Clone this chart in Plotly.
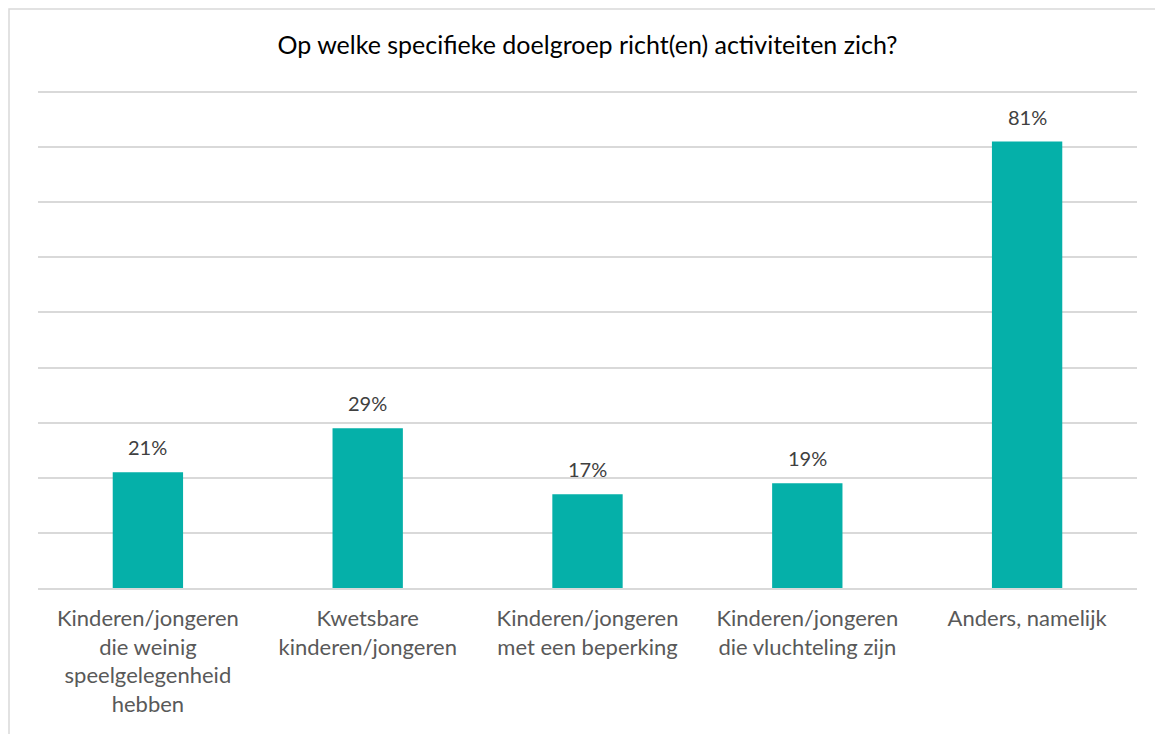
import plotly.graph_objects as go

categories = [
    "Kinderen/jongeren<br>die weinig<br>speelgelegenheid<br>hebben",
    "Kwetsbare<br>kinderen/jongeren",
    "Kinderen/jongeren<br>met een beperking",
    "Kinderen/jongeren<br>die vluchteling zijn",
    "Anders, namelijk",
]
values = [21, 29, 17, 19, 81]
labels = [str(v) + "%" for v in values]

title = "Op welke specifieke doelgroep richt(en) activiteiten zich?"

fig = go.Figure()
fig.add_trace(go.Bar(
    x=categories, y=values,
    marker=dict(color="#05b0a9", line=dict(width=0)),
    hoverinfo="x+y",
))

# data labels sit a bit higher above the bars than plotly's default "outside"
for c, v, t in zip(categories, values, labels):
    fig.add_annotation(x=c, y=v, text=t, showarrow=False, yanchor="bottom", yshift=11,
                       font=dict(family="Lato", size=20, color="#404040"))

# page has an 8px body margin, so the figure is a bit smaller than the window
fig.update_layout(
    width=1155, height=726,
    margin=dict(l=30, r=26, t=79, b=146),
    paper_bgcolor="white", plot_bgcolor="white",
    bargap=0.68,
    showlegend=False,
    title=dict(text=title, x=0.5, xref="paper", y=1 - 37 / 726, yref="container", yanchor="middle",
               font=dict(family="Lato", size=25, color="#000000")),
    font=dict(family="Lato"),
)

fig.update_yaxes(range=[0, 90.9], tickvals=list(range(0, 100, 10)), showticklabels=False,
                 gridcolor="#d9d9d9", gridwidth=1.5, zeroline=False, showline=False, ticks="")
fig.update_xaxes(showline=True, linecolor="#d9d9d9", linewidth=1.5, ticks="",
                 tickfont=dict(family="Lato", size=22, color="#595959"), tickangle=0,
                 ticklabelstandoff=10)

# chart border like the Excel chart area
fig.add_shape(type="rect", xref="paper", yref="paper",
              x0=-29 / 1099, x1=1.1, y0=-0.5, y1=(580 - 1) / 501,
              line=dict(color="#d9d9d9", width=1.5), fillcolor="rgba(0,0,0,0)", layer="below")

fig.write_html("out.html")
